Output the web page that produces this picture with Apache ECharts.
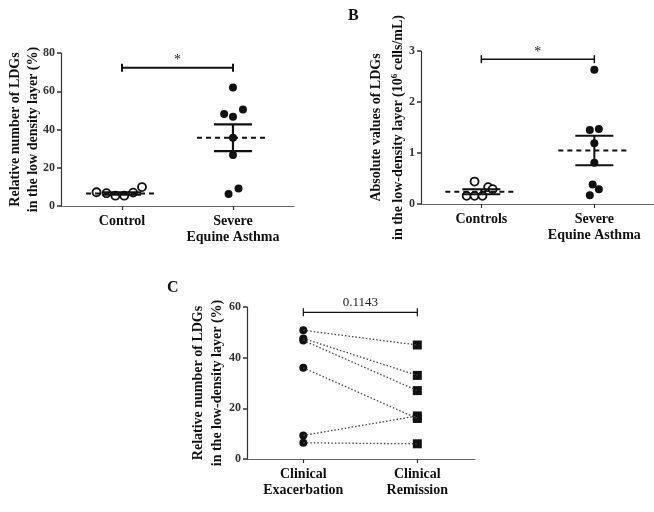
<!DOCTYPE html>
<html>
<head>
<meta charset="utf-8">
<script src="https://cdn.jsdelivr.net/npm/echarts@6/dist/echarts.min.js"></script>
<style>
  html, body { margin: 0; padding: 0; background: #fff; }
  #chart { width: 654px; height: 512px; }
</style>
</head>
<body>
<div id="chart"></div>
<script>
// Panel A - relative number of LDGs (%)
const aCategories = ['Control', 'Severe\nEquine Asthma'];
const aControlX = [0.77, 0.86, 0.94, 1.02, 1.10, 1.18];
const aControlY = [7.2, 6.7, 5.4, 5.4, 7.0, 9.9];
const aSevereX = [2.0, 1.92, 2.0, 2.09, 2.0, 2.0, 2.05, 1.96];
const aSevereY = [61.9, 48.1, 46.7, 50.5, 35.7, 26.7, 9.2, 6.3];
const aMean = [6.6, 35.7];
const aSem = [0.6, 7.0];
const aBracketY = 72.3;
const aSig = '*';

// Panel B - absolute values (10^6 cells/mL)
const bCategories = ['Controls', 'Severe\nEquine Asthma'];
const bControlX = [0.87, 0.94, 1.01, 0.94, 1.06, 1.10];
const bControlY = [0.16, 0.16, 0.16, 0.44, 0.33, 0.29];
const bSevereX = [2.0, 1.96, 2.04, 2.0, 2.0, 1.985, 2.04, 1.96];
const bSevereY = [2.63, 1.45, 1.47, 1.19, 0.81, 0.38, 0.29, 0.17];
const bMean = [0.24, 1.05];
const bSem = [0.05, 0.29];
const bBracketY = 2.84;
const bSig = '*';

// Panel C - paired exacerbation / remission
const cCategories = ['Clinical\nExacerbation', 'Clinical\nRemission'];
const cExacerbation = [50.8, 47.6, 46.8, 36.0, 9.3, 6.4];
const cRemission = [45.0, 33.0, 27.0, 16.0, 17.0, 6.0];
const cBracketY = 57.9;
const cSig = '0.1143';

const FONT = '"Liberation Serif", "Times New Roman", serif';
const chart = echarts.init(document.getElementById('chart'));

function xAxisFor(grid, min, max, cats) {
  return {
    type: 'value', gridIndex: grid, min: min, max: max,
    splitLine: { show: false },
    axisLine: { lineStyle: { color: '#666', width: 1.2 } },
    axisTick: { customValues: [1, 2], length: 4, lineStyle: { color: '#333', width: 1.2 } },
    axisLabel: {
      customValues: [1, 2], margin: 7,
      formatter: v => cats[Math.round(v) - 1],
      fontFamily: FONT, fontWeight: 'bold', fontSize: 14, color: '#111', lineHeight: 16
    }
  };
}

function yAxisFor(grid, max, interval, name, gap, lh) {
  return {
    type: 'value', gridIndex: grid, min: 0, max: max, interval: interval,
    splitLine: { show: false },
    axisLine: { show: true, lineStyle: { color: '#333', width: 1.2 } },
    axisTick: { show: true, length: 4, lineStyle: { color: '#333', width: 1.5 } },
    axisLabel: { margin: 6, fontFamily: FONT, fontWeight: 'bold', fontSize: 12, color: '#333' },
    name: name, nameLocation: 'middle', nameGap: gap, nameRotate: 90, nameMoveOverlap: false,
    nameTextStyle: {
      fontFamily: FONT, fontWeight: 'bold', fontSize: 14, color: '#111', lineHeight: lh,
      rich: {
        a: { fontFamily: FONT, fontWeight: 'bold', fontSize: 14, color: '#111', lineHeight: lh },
        s: { fontFamily: FONT, fontWeight: 'bold', fontSize: 9, color: '#111', padding: [0, 0, 7, 0], lineHeight: 12 }
      }
    }
  };
}

// mean (dashed) with SEM error bars
function statsSeries(idx, means, sems, lw) {
  return {
    type: 'custom', xAxisIndex: idx, yAxisIndex: idx, z: 5, silent: true,
    data: means.map((m, i) => [i + 1, m, sems[i]]),
    renderItem: (params, api) => {
      const x = api.value(0), m = api.value(1), s = api.value(2);
      const c = api.coord([x, m]);
      const t = api.coord([x, m + s]);
      const b = api.coord([x, m - s]);
      const st = { stroke: '#111', lineWidth: lw };
      return {
        type: 'group', children: [
          { type: 'line', shape: { x1: c[0] - 36, y1: c[1], x2: c[0] + 36, y2: c[1] },
            style: { stroke: '#111', lineWidth: 2, lineDash: [5, 4] } },
          { type: 'line', shape: { x1: t[0], y1: t[1], x2: b[0], y2: b[1] }, style: st },
          { type: 'line', shape: { x1: t[0] - 19, y1: t[1], x2: t[0] + 19, y2: t[1] }, style: st },
          { type: 'line', shape: { x1: b[0] - 19, y1: b[1], x2: b[0] + 19, y2: b[1] }, style: st }
        ]
      };
    }
  };
}

function bracketSeries(idx, y, txt, lw, fontSize, textGap) {
  return {
    type: 'custom', xAxisIndex: idx, yAxisIndex: idx, silent: true,
    data: [[1, 2, y]],
    renderItem: (params, api) => {
      const p1 = api.coord([api.value(0), api.value(2)]);
      const p2 = api.coord([api.value(1), api.value(2)]);
      const st = { stroke: '#111', lineWidth: lw };
      return {
        type: 'group', children: [
          { type: 'line', shape: { x1: p1[0], y1: p1[1], x2: p2[0], y2: p2[1] }, style: st },
          { type: 'line', shape: { x1: p1[0], y1: p1[1] - 4, x2: p1[0], y2: p1[1] + 4 }, style: st },
          { type: 'line', shape: { x1: p2[0], y1: p2[1] - 4, x2: p2[0], y2: p2[1] + 4 }, style: st },
          { type: 'text', style: { text: txt, x: (p1[0] + p2[0]) / 2, y: p1[1] - textGap,
            align: 'center', verticalAlign: 'bottom', fontFamily: FONT, fontSize: fontSize, fill: '#222' } }
        ]
      };
    }
  };
}

function zip(xs, ys) { return xs.map((x, i) => [x, ys[i]]); }

const openDot = { color: '#fff', borderColor: '#111', borderWidth: 1.8, opacity: 1 };
const filledDot = { color: '#111', opacity: 1 };

const series = [
  { type: 'scatter', xAxisIndex: 0, yAxisIndex: 0, symbolSize: 8, itemStyle: openDot, data: zip(aControlX, aControlY) },
  { type: 'scatter', xAxisIndex: 0, yAxisIndex: 0, symbolSize: 8, itemStyle: filledDot, data: zip(aSevereX, aSevereY) },
  statsSeries(0, aMean, aSem, 2.2),
  bracketSeries(0, aBracketY, aSig, 2, 14, 0),

  { type: 'scatter', xAxisIndex: 1, yAxisIndex: 1, symbolSize: 8, itemStyle: openDot, data: zip(bControlX, bControlY) },
  { type: 'scatter', xAxisIndex: 1, yAxisIndex: 1, symbolSize: 8, itemStyle: filledDot, data: zip(bSevereX, bSevereY) },
  statsSeries(1, bMean, bSem, 2),
  bracketSeries(1, bBracketY, bSig, 1.5, 14, 0)
];

cExacerbation.forEach((v, i) => {
  series.push({
    type: 'line', xAxisIndex: 2, yAxisIndex: 2, symbol: 'none', silent: true,
    data: [[1, v], [2, cRemission[i]]],
    lineStyle: { color: '#444', width: 1.3, type: [1.5, 2] }
  });
});
series.push(
  { type: 'scatter', xAxisIndex: 2, yAxisIndex: 2, symbol: 'circle', symbolSize: 8, itemStyle: filledDot,
    data: cExacerbation.map(v => [1, v]) },
  { type: 'scatter', xAxisIndex: 2, yAxisIndex: 2, symbol: 'rect', symbolSize: 9, itemStyle: filledDot,
    data: cRemission.map(v => [2, v]) },
  bracketSeries(2, cBracketY, cSig, 1.2, 13, 3)
);

chart.setOption({
  animation: false,
  backgroundColor: '#fff',
  grid: [
    { left: 61, top: 53, width: 233, height: 153 },
    { left: 421, top: 51, width: 233, height: 153 },
    { left: 247, top: 307, width: 228, height: 152 }
  ],
  xAxis: [
    xAxisFor(0, 0.45, 2.55, aCategories),
    xAxisFor(1, 0.466, 2.528, bCategories),
    xAxisFor(2, 0.506, 2.506, cCategories)
  ],
  yAxis: [
    yAxisFor(0, 80, 20, 'Relative number of LDGs\nin the low density layer (%)', 19, 18),
    yAxisFor(1, 3, 1, '{a|Absolute values of LDGs}\n{a|in the low-density layer (10}{s|6}{a| cells/mL)}', 12, 22),
    yAxisFor(2, 60, 20, 'Relative number of LDGs\nin the low-density layer (%)', 20, 19)
  ],
  graphic: [
    { type: 'text', left: 348, top: 8, style: { text: 'B', fontFamily: FONT, fontWeight: 'bold', fontSize: 16, fill: '#111' } },
    { type: 'text', left: 167, top: 280, style: { text: 'C', fontFamily: FONT, fontWeight: 'bold', fontSize: 16, fill: '#111' } }
  ],
  series: series
});
</script>
</body>
</html>
